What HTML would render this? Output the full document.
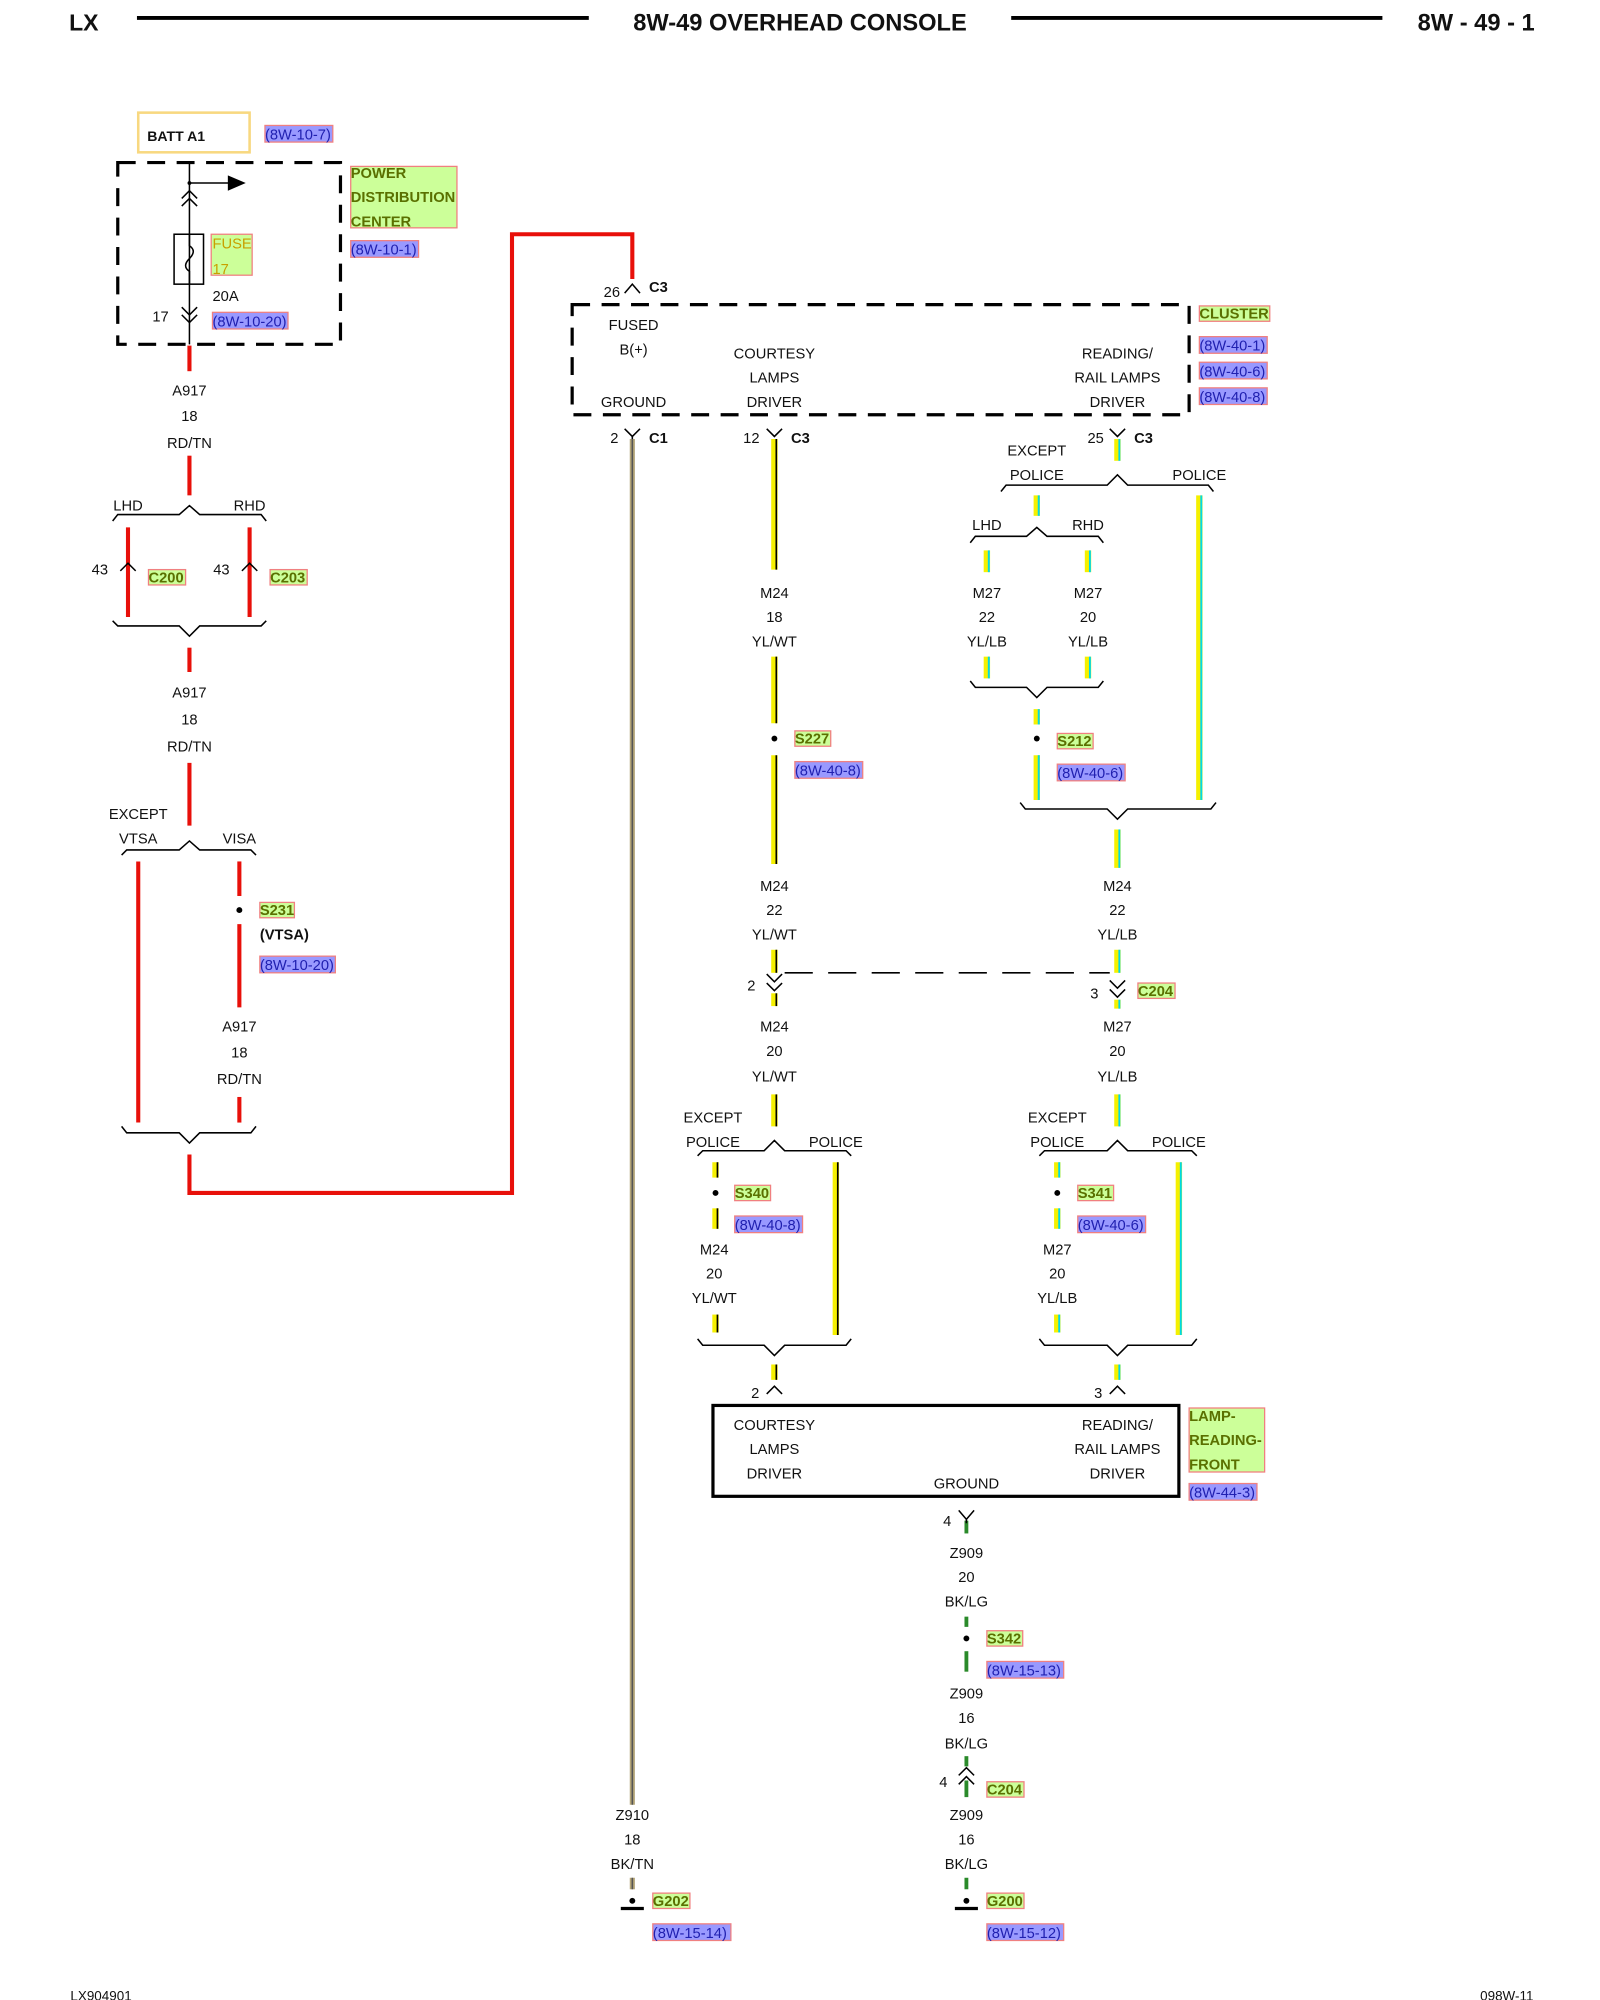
<!DOCTYPE html>
<html><head><meta charset="utf-8"><style>
html,body{margin:0;padding:0;background:#fff;}
svg{display:block;}
text{font-family:"Liberation Sans",sans-serif;font-size:11.5px;fill:#111;}
.m{text-anchor:middle;}
.b{font-weight:bold;}
.g{fill:#5a7000;font-weight:bold;}
.u{fill:#2020b0;}
.gl{fill:#ccff99;stroke:#f08080;stroke-width:1;}
.bl{fill:#9999ff;stroke:#f08080;stroke-width:1;}
.k{fill:none;stroke:#000;stroke-width:1.2;}
.r{stroke:#e8100a;stroke-width:3.2;fill:none;}
.y{stroke:#f5f000;stroke-width:5;fill:none;}
.yb{stroke:#000;stroke-width:1.3;fill:none;}
.yc{stroke:#00d8e8;stroke-width:1.5;fill:none;}
.gt{stroke:#b3a477;stroke-width:4;fill:none;}
.gd{stroke:#555;stroke-width:1.2;fill:none;}
.gr{stroke:#2a8a2a;stroke-width:3;fill:none;}
.dash{fill:none;stroke:#000;stroke-width:2.5;stroke-dasharray:14,9;}
</style></head><body>
<svg width="1600" height="2000" viewBox="0 0 1250 1562.5" xmlns="http://www.w3.org/2000/svg">
<!-- header -->
<text x="54" y="24" class="b" style="font-size:18px">LX</text>
<line x1="107" y1="14" x2="460" y2="14" stroke="#000" stroke-width="3"/>
<text x="625" y="24" class="b m" style="font-size:18.5px">8W-49 OVERHEAD CONSOLE</text>
<line x1="790" y1="14" x2="1080" y2="14" stroke="#000" stroke-width="3"/>
<text x="1199" y="24" class="b" text-anchor="end" style="font-size:18.5px">8W - 49 - 1</text>

<!-- BATT -->
<rect x="108" y="88" width="87" height="31" fill="none" stroke="#f8d880" stroke-width="2"/>
<text x="115" y="110" class="b" style="font-size:11px">BATT A1</text>
<rect x="207" y="98" width="53" height="13" class="bl"/><text x="207" y="109" class="u">(8W-10-7)</text>

<!-- PDC -->
<rect x="92" y="127" width="174" height="142" class="dash"/>
<line x1="148" y1="127" x2="148" y2="269" stroke="#000" stroke-width="1.2"/>
<circle cx="148" cy="143" r="1.5"/>
<line x1="148" y1="143" x2="180" y2="143" stroke="#000" stroke-width="1.2"/>
<path d="M178 137 L192 143 L178 149 Z"/>
<path class="k" d="M142 155 L148 149 L154 155 M142 161 L148 155 L154 161"/>
<rect x="136" y="183" width="23" height="39" class="k"/>
<path class="k" d="M148 183 L148 192 Q154 196 148 202 Q142 208 148 212 L148 222"/>
<rect x="165" y="183" width="32" height="32" class="gl"/>
<text x="166" y="194" style="fill:#c8a000">FUSE</text><text x="166" y="214" style="fill:#c8a000">17</text>
<text x="166" y="235">20A</text>
<text x="119" y="251">17</text>
<path class="k" d="M142 240 L148 246 L154 240 M142 246 L148 252 L154 246"/>
<rect x="166" y="244" width="59" height="13" class="bl"/><text x="166" y="255" class="u">(8W-10-20)</text>
<rect x="274" y="130" width="83" height="48" class="gl"/>
<text x="274" y="139" class="g">POWER</text><text x="274" y="158" class="g">DISTRIBUTION</text><text x="274" y="177" class="g">CENTER</text>
<rect x="274" y="188" width="53" height="13" class="bl"/><text x="274" y="199" class="u">(8W-10-1)</text>

<!-- A917 path -->
<line class="r" x1="148" y1="270" x2="148" y2="290"/>
<text x="148" y="309" class="m">A917</text><text x="148" y="329" class="m">18</text><text x="148" y="350" class="m">RD/TN</text>
<line class="r" x1="148" y1="356" x2="148" y2="387"/>
<text x="100" y="399" class="m">LHD</text><text x="195" y="399" class="m">RHD</text>
<path class="k" d="M88 407 L92 402 L140 402 L148 395 L156 402 L204 402 L208 407"/>
<line class="r" x1="100" y1="412" x2="100" y2="482"/><line class="r" x1="195" y1="412" x2="195" y2="482"/>
<path class="k" d="M94 446 L100 440 L106 446 M189 446 L195 440 L201 446"/>
<text x="78" y="449" class="m">43</text><text x="173" y="449" class="m">43</text>
<rect x="116" y="445" width="29" height="12" class="gl"/><text x="116" y="455" class="g">C200</text>
<rect x="211" y="445" width="29" height="12" class="gl"/><text x="211" y="455" class="g">C203</text>
<path class="k" d="M88 485 L92 489 L140 489 L148 497 L156 489 L204 489 L208 485"/>
<line class="r" x1="148" y1="506" x2="148" y2="525"/>
<text x="148" y="545" class="m">A917</text><text x="148" y="566" class="m">18</text><text x="148" y="587" class="m">RD/TN</text>
<line class="r" x1="148" y1="596" x2="148" y2="645"/>
<text x="108" y="640" class="m">EXCEPT</text><text x="108" y="659" class="m">VTSA</text><text x="187" y="659" class="m">VISA</text>
<path class="k" d="M95 668 L99 664 L140 664 L148 657 L156 664 L196 664 L200 668"/>
<line class="r" x1="108" y1="673" x2="108" y2="877"/>
<line class="r" x1="187" y1="673" x2="187" y2="700"/>
<circle cx="187" cy="711" r="2.3"/>
<line class="r" x1="187" y1="722" x2="187" y2="787"/>
<rect x="203" y="705" width="27" height="12" class="gl"/><text x="203" y="715" class="g">S231</text>
<text x="203" y="734" class="b">(VTSA)</text>
<rect x="203" y="747" width="59" height="13" class="bl"/><text x="203" y="758" class="u">(8W-10-20)</text>
<text x="187" y="806" class="m">A917</text><text x="187" y="826" class="m">18</text><text x="187" y="847" class="m">RD/TN</text>
<line class="r" x1="187" y1="857" x2="187" y2="877"/>
<path class="k" d="M95 880 L99 885 L140 885 L148 893 L156 885 L196 885 L200 880"/>
<path class="r" d="M148 902 L148 932 L400 932 L400 183 L494 183 L494 218"/>
<path class="k" d="M488 229 L494 222 L500 229"/>
<text x="478" y="232" class="m">26</text><text x="507" y="228" class="b">C3</text>

<!-- Cluster -->
<rect x="447" y="238" width="482" height="86" class="dash"/>
<text x="495" y="258" class="m">FUSED</text><text x="495" y="277" class="m">B(+)</text><text x="495" y="318" class="m">GROUND</text>
<text x="605" y="280" class="m">COURTESY</text><text x="605" y="299" class="m">LAMPS</text><text x="605" y="318" class="m">DRIVER</text>
<text x="873" y="280" class="m">READING/</text><text x="873" y="299" class="m">RAIL LAMPS</text><text x="873" y="318" class="m">DRIVER</text>
<rect x="937" y="239" width="55" height="12" class="gl"/><text x="937" y="249" class="g">CLUSTER</text>
<rect x="937" y="263" width="53" height="13" class="bl"/><text x="937" y="274" class="u">(8W-40-1)</text>
<rect x="937" y="283" width="53" height="13" class="bl"/><text x="937" y="294" class="u">(8W-40-6)</text>
<rect x="937" y="303" width="53" height="13" class="bl"/><text x="937" y="314" class="u">(8W-40-8)</text>

<path class="k" d="M488 335 L494 341 L500 335 M494 341 L494 346 M599 335 L605 341 L611 335 M867 335 L873 341 L879 335"/>
<text x="480" y="346" class="m">2</text><text x="507" y="346" class="b">C1</text>
<text x="587" y="346" class="m">12</text><text x="618" y="346" class="b">C3</text>
<text x="856" y="346" class="m">25</text><text x="886" y="346" class="b">C3</text>

<!-- Ground Z910 -->
<line class="gt" x1="494" y1="343" x2="494" y2="1410"/><line class="gd" x1="494" y1="343" x2="494" y2="1410"/>
<text x="494" y="1422" class="m">Z910</text><text x="494" y="1441" class="m">18</text><text x="494" y="1460" class="m">BK/TN</text>
<line class="gt" x1="494" y1="1467" x2="494" y2="1476"/><line class="gd" x1="494" y1="1467" x2="494" y2="1476"/>
<circle cx="494" cy="1485" r="2.3"/><line x1="485" y1="1491" x2="503" y2="1491" stroke="#000" stroke-width="2.5"/>
<rect x="510" y="1479" width="29" height="12" class="gl"/><text x="510" y="1489" class="g">G202</text>
<rect x="510" y="1503" width="61" height="13" class="bl"/><text x="510" y="1514" class="u">(8W-15-14)</text>

<!-- M24 column -->
<g>
<line class="y" x1="605" y1="343" x2="605" y2="445"/><line class="yb" x1="606.5" y1="343" x2="606.5" y2="445"/>
<text x="605" y="467" class="m">M24</text><text x="605" y="486" class="m">18</text><text x="605" y="505" class="m">YL/WT</text>
<line class="y" x1="605" y1="513" x2="605" y2="565"/><line class="yb" x1="606.5" y1="513" x2="606.5" y2="565"/>
<circle cx="605" cy="577" r="2.3"/>
<rect x="621" y="571" width="28" height="12" class="gl"/><text x="621" y="581" class="g">S227</text>
<rect x="621" y="595" width="53" height="13" class="bl"/><text x="621" y="606" class="u">(8W-40-8)</text>
<line class="y" x1="605" y1="590" x2="605" y2="675"/><line class="yb" x1="606.5" y1="590" x2="606.5" y2="675"/>
<text x="605" y="696" class="m">M24</text><text x="605" y="715" class="m">22</text><text x="605" y="734" class="m">YL/WT</text>
<line class="y" x1="605" y1="742" x2="605" y2="760"/><line class="yb" x1="606.5" y1="742" x2="606.5" y2="760"/>
<path class="k" d="M599 761 L605 767 L611 761 M599 768 L605 774 L611 768"/>
<text x="587" y="774" class="m">2</text>
<line x1="613" y1="760" x2="867" y2="760" stroke="#000" stroke-width="1.2" stroke-dasharray="22,12"/>
<line class="y" x1="605" y1="776" x2="605" y2="786"/><line class="yb" x1="606.5" y1="776" x2="606.5" y2="786"/>
<text x="605" y="806" class="m">M24</text><text x="605" y="825" class="m">20</text><text x="605" y="845" class="m">YL/WT</text>
<line class="y" x1="605" y1="855" x2="605" y2="880"/><line class="yb" x1="606.5" y1="855" x2="606.5" y2="880"/>
<text x="557" y="877" class="m">EXCEPT</text><text x="557" y="896" class="m">POLICE</text><text x="653" y="896" class="m">POLICE</text>
<path class="k" d="M545 903 L549 899 L597 899 L605 891 L613 899 L661 899 L665 903"/>
<line class="y" x1="559" y1="908" x2="559" y2="920"/><line class="yb" x1="560.5" y1="908" x2="560.5" y2="920"/>
<circle cx="559" cy="932" r="2.3"/>
<rect x="574" y="926" width="28" height="12" class="gl"/><text x="574" y="936" class="g">S340</text>
<rect x="574" y="950" width="53" height="13" class="bl"/><text x="574" y="961" class="u">(8W-40-8)</text>
<line class="y" x1="559" y1="944" x2="559" y2="960"/><line class="yb" x1="560.5" y1="944" x2="560.5" y2="960"/>
<text x="558" y="980" class="m">M24</text><text x="558" y="999" class="m">20</text><text x="558" y="1018" class="m">YL/WT</text>
<line class="y" x1="559" y1="1027" x2="559" y2="1041"/><line class="yb" x1="560.5" y1="1027" x2="560.5" y2="1041"/>
<line class="y" x1="653" y1="908" x2="653" y2="1043"/><line class="yb" x1="654.5" y1="908" x2="654.5" y2="1043"/>
<path class="k" d="M545 1046 L549 1051 L597 1051 L605 1059 L613 1051 L661 1051 L665 1046"/>
<line class="y" x1="605" y1="1066" x2="605" y2="1078"/><line class="yb" x1="606.5" y1="1066" x2="606.5" y2="1078"/>
<path class="k" d="M599 1089 L605 1083 L611 1089"/>
<text x="590" y="1092" class="m">2</text>
</g>

<!-- M27 column -->
<g>
<line class="y" x1="873" y1="343" x2="873" y2="360"/><line class="yc" x1="874.5" y1="343" x2="874.5" y2="360"/>
<text x="810" y="356" class="m">EXCEPT</text><text x="810" y="375" class="m">POLICE</text><text x="937" y="375" class="m">POLICE</text>
<path class="k" d="M782 384 L786 379 L865 379 L873 371 L881 379 L944 379 L948 384"/>
<line class="y" x1="810" y1="387" x2="810" y2="403"/><line class="yc" x1="811.5" y1="387" x2="811.5" y2="403"/>
<text x="771" y="414" class="m">LHD</text><text x="850" y="414" class="m">RHD</text>
<path class="k" d="M758 424 L762 419 L802 419 L810 412 L818 419 L858 419 L862 424"/>
<line class="y" x1="771" y1="430" x2="771" y2="447"/><line class="yc" x1="772.5" y1="430" x2="772.5" y2="447"/>
<line class="y" x1="850" y1="430" x2="850" y2="447"/><line class="yc" x1="851.5" y1="430" x2="851.5" y2="447"/>
<text x="771" y="467" class="m">M27</text><text x="771" y="486" class="m">22</text><text x="771" y="505" class="m">YL/LB</text>
<text x="850" y="467" class="m">M27</text><text x="850" y="486" class="m">20</text><text x="850" y="505" class="m">YL/LB</text>
<line class="y" x1="771" y1="513" x2="771" y2="530"/><line class="yc" x1="772.5" y1="513" x2="772.5" y2="530"/>
<line class="y" x1="850" y1="513" x2="850" y2="530"/><line class="yc" x1="851.5" y1="513" x2="851.5" y2="530"/>
<path class="k" d="M758 532 L762 537 L802 537 L810 545 L818 537 L858 537 L862 532"/>
<line class="y" x1="810" y1="554" x2="810" y2="566"/><line class="yc" x1="811.5" y1="554" x2="811.5" y2="566"/>
<circle cx="810" cy="577" r="2.3"/>
<rect x="826" y="573" width="28" height="12" class="gl"/><text x="826" y="583" class="g">S212</text>
<rect x="826" y="597" width="53" height="13" class="bl"/><text x="826" y="608" class="u">(8W-40-6)</text>
<line class="y" x1="810" y1="590" x2="810" y2="625"/><line class="yc" x1="811.5" y1="590" x2="811.5" y2="625"/>
<line class="y" x1="937" y1="387" x2="937" y2="625"/><line class="yc" x1="938.5" y1="387" x2="938.5" y2="625"/>
<path class="k" d="M797 627 L801 632 L865 632 L873 640 L881 632 L946 632 L950 627"/>
<line class="y" x1="873" y1="648" x2="873" y2="678"/><line class="yc" x1="874.5" y1="648" x2="874.5" y2="678"/>
<text x="873" y="696" class="m">M24</text><text x="873" y="715" class="m">22</text><text x="873" y="734" class="m">YL/LB</text>
<line class="y" x1="873" y1="742" x2="873" y2="760"/><line class="yc" x1="874.5" y1="742" x2="874.5" y2="760"/>
<path class="k" d="M867 766 L873 772 L879 766 M867 773 L873 779 L879 773"/>
<text x="855" y="780" class="m">3</text>
<rect x="889" y="768" width="29" height="12" class="gl"/><text x="889" y="778" class="g">C204</text>
<line class="y" x1="873" y1="781" x2="873" y2="788"/><line class="yc" x1="874.5" y1="781" x2="874.5" y2="788"/>
<text x="873" y="806" class="m">M27</text><text x="873" y="825" class="m">20</text><text x="873" y="845" class="m">YL/LB</text>
<line class="y" x1="873" y1="855" x2="873" y2="880"/><line class="yc" x1="874.5" y1="855" x2="874.5" y2="880"/>
<text x="826" y="877" class="m">EXCEPT</text><text x="826" y="896" class="m">POLICE</text><text x="921" y="896" class="m">POLICE</text>
<path class="k" d="M812 903 L816 899 L865 899 L873 891 L881 899 L931 899 L935 903"/>
<line class="y" x1="826" y1="908" x2="826" y2="920"/><line class="yc" x1="827.5" y1="908" x2="827.5" y2="920"/>
<circle cx="826" cy="932" r="2.3"/>
<rect x="842" y="926" width="28" height="12" class="gl"/><text x="842" y="936" class="g">S341</text>
<rect x="842" y="950" width="53" height="13" class="bl"/><text x="842" y="961" class="u">(8W-40-6)</text>
<line class="y" x1="826" y1="944" x2="826" y2="960"/><line class="yc" x1="827.5" y1="944" x2="827.5" y2="960"/>
<text x="826" y="980" class="m">M27</text><text x="826" y="999" class="m">20</text><text x="826" y="1018" class="m">YL/LB</text>
<line class="y" x1="826" y1="1027" x2="826" y2="1041"/><line class="yc" x1="827.5" y1="1027" x2="827.5" y2="1041"/>
<line class="y" x1="921" y1="908" x2="921" y2="1043"/><line class="yc" x1="922.5" y1="908" x2="922.5" y2="1043"/>
<path class="k" d="M812 1046 L816 1051 L865 1051 L873 1059 L881 1051 L931 1051 L935 1046"/>
<line class="y" x1="873" y1="1066" x2="873" y2="1078"/><line class="yc" x1="874.5" y1="1066" x2="874.5" y2="1078"/>
<path class="k" d="M867 1089 L873 1083 L879 1089"/>
<text x="858" y="1092" class="m">3</text>
</g>

<!-- Lamp box -->
<rect x="557" y="1098" width="364" height="71" fill="none" stroke="#000" stroke-width="2.5"/>
<text x="605" y="1117" class="m">COURTESY</text><text x="605" y="1136" class="m">LAMPS</text><text x="605" y="1155" class="m">DRIVER</text>
<text x="873" y="1117" class="m">READING/</text><text x="873" y="1136" class="m">RAIL LAMPS</text><text x="873" y="1155" class="m">DRIVER</text>
<text x="755" y="1163" class="m">GROUND</text>
<rect x="929" y="1100" width="59" height="50" class="gl"/>
<text x="929" y="1110" class="g">LAMP-</text><text x="929" y="1129" class="g">READING-</text><text x="929" y="1148" class="g">FRONT</text>
<rect x="929" y="1159" width="53" height="13" class="bl"/><text x="929" y="1170" class="u">(8W-44-3)</text>

<!-- Z909 -->
<line class="gr" x1="755" y1="1188" x2="755" y2="1198"/>
<path class="k" d="M749 1180 L755 1187 L761 1180 M755 1187 L755 1190"/>
<text x="740" y="1192" class="m">4</text>
<text x="755" y="1217" class="m">Z909</text><text x="755" y="1236" class="m">20</text><text x="755" y="1255" class="m">BK/LG</text>
<line class="gr" x1="755" y1="1263" x2="755" y2="1271"/>
<circle cx="755" cy="1280" r="2.3"/>
<rect x="771" y="1274" width="28" height="12" class="gl"/><text x="771" y="1284" class="g">S342</text>
<rect x="771" y="1298" width="60" height="13" class="bl"/><text x="771" y="1309" class="u">(8W-15-13)</text>
<line class="gr" x1="755" y1="1290" x2="755" y2="1306"/>
<text x="755" y="1327" class="m">Z909</text><text x="755" y="1346" class="m">16</text><text x="755" y="1366" class="m">BK/LG</text>
<line class="gr" x1="755" y1="1372" x2="755" y2="1380"/>
<path class="k" d="M749 1387 L755 1381 L761 1387 M749 1394 L755 1388 L761 1394"/>
<line class="gr" x1="755" y1="1391" x2="755" y2="1404"/>
<text x="737" y="1396" class="m">4</text>
<rect x="771" y="1392" width="29" height="12" class="gl"/><text x="771" y="1402" class="g">C204</text>
<text x="755" y="1422" class="m">Z909</text><text x="755" y="1441" class="m">16</text><text x="755" y="1460" class="m">BK/LG</text>
<line class="gr" x1="755" y1="1467" x2="755" y2="1476"/>
<circle cx="755" cy="1485" r="2.3"/><line x1="746" y1="1491" x2="764" y2="1491" stroke="#000" stroke-width="2.5"/>
<rect x="771" y="1479" width="29" height="12" class="gl"/><text x="771" y="1489" class="g">G200</text>
<rect x="771" y="1503" width="60" height="13" class="bl"/><text x="771" y="1514" class="u">(8W-15-12)</text>

<!-- footer -->
<text x="55" y="1563" style="font-size:10.5px">LX904901</text>
<text x="1198" y="1563" text-anchor="end" style="font-size:10.5px">098W-11</text>
</svg>
</body></html>
